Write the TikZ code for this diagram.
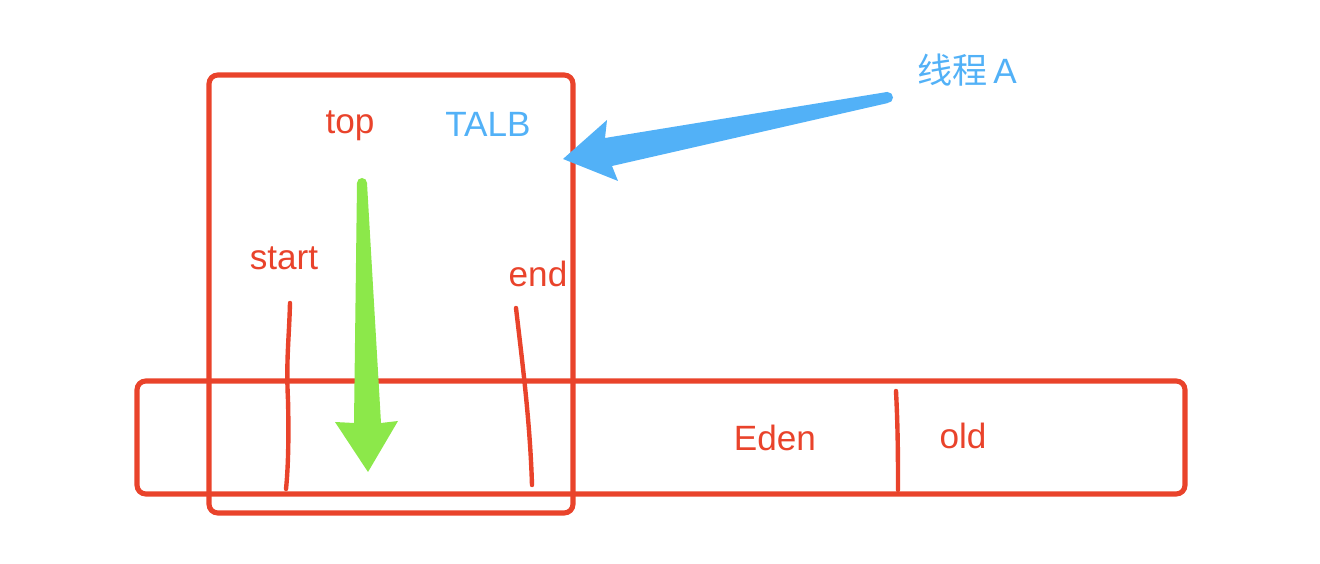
\documentclass[tikz,border=0pt]{standalone}
\usepackage{fontspec}
\setmainfont{Liberation Sans}
\newfontfamily\cjk{Noto Sans CJK SC}
\usetikzlibrary{positioning,calc}

\definecolor{boxred}{HTML}{E9432B}
\definecolor{thrblue}{HTML}{52B1F7}
\definecolor{ptrgreen}{HTML}{8CE84A}

\begin{document}
\begin{tikzpicture}[
    x=0.02cm, y=-0.02cm,
    region/.style={draw=boxred, line width=2.9pt, rounded corners=5pt},
    mark line/.style={draw=boxred, line width=2.5pt, line cap=round},
    lbl/.style={text=boxred, font=\fontsize{20}{23}\selectfont, inner sep=0pt},
    blbl/.style={text=thrblue, font=\fontsize{20}{23}\selectfont, inner sep=0pt},
  ]
  \useasboundingbox (0,0) rectangle (1320,564);

  %% heap and TLAB regions
  \draw[region] (137,381) rectangle (1185,494);
  \draw[region] (209,75) rectangle (573,513);

  %% labels
  \node[lbl] (top) at (350,126) {top};
  \node[blbl] (tlab) at (488,124) {TALB};
  \node[lbl] (start) at (284,258) {start};
  \node[lbl] (end) at (538,274) {end};
  \node[lbl] (eden) at (775,438) {Eden};
  \node[lbl] (old) at (963,436) {old};
  \node[blbl] (thread) at (967,70) {{\cjk 线程}\,A};

  %% start / end marks and Eden|old split
  \draw[mark line] (290,303) .. controls (289,340) and (286,360) .. (288,400)
    .. controls (289,440) and (288,470) .. (286,489);
  \draw[mark line] (516,308) .. controls (522,360) and (530,420) .. (532,485);
  \draw[mark line] (896,391) .. controls (898,430) and (898,460) .. (898,490);

  %% top pointer (green)
  \fill[ptrgreen] (362,183) circle (5);
  \fill[ptrgreen] (357,183) -- (354,423) -- (335,422) -- (368,472)
    -- (398,421) -- (381,423) -- (367,183) -- cycle;

  %% thread A -> TLAB (blue)
  \fill[thrblue] (887.5,97.5) circle (5.5);
  \fill[thrblue] (887,92) -- (605,138) -- (607,120) -- (563,159)
    -- (618,181) -- (612,166) -- (888,103) -- cycle;
\end{tikzpicture}
\end{document}
